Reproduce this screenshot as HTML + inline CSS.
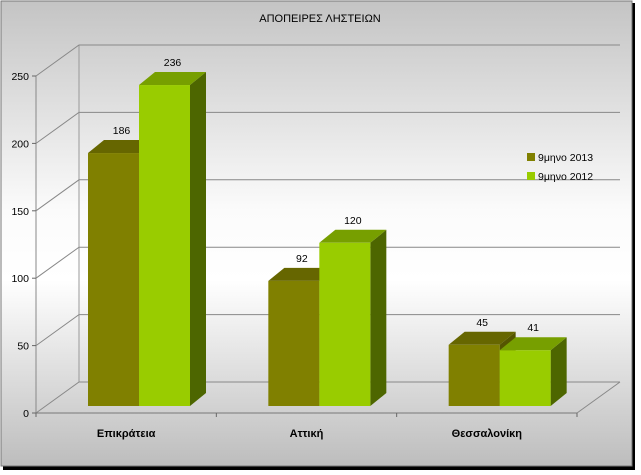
<!DOCTYPE html>
<html><head><meta charset="utf-8"><style>
html,body{margin:0;padding:0;background:#fff;width:641px;height:475px;overflow:hidden}
svg{display:block;font-family:"Liberation Sans","DejaVu Sans",sans-serif}
</style></head><body>
<svg width="641" height="475">
<defs>
<linearGradient id="bg" x1="0" y1="0" x2="0" y2="1">
<stop offset="0" stop-color="#c4c4c4"/><stop offset="0.45" stop-color="#fbfbfb"/><stop offset="0.6" stop-color="#ffffff"/><stop offset="1" stop-color="#bdbdbd"/>
</linearGradient>
</defs>
<rect x="3" y="3" width="632" height="467" fill="#000"/>
<rect x="1" y="1" width="631" height="465" fill="url(#bg)" stroke="#777" stroke-width="1"/>
<text x="320" y="22" text-anchor="middle" font-size="11" fill="#000">ΑΠΟΠΕΙΡΕΣ ΛΗΣΤΕΙΩΝ</text>
<g id="grid"></g>
<g id="bars"></g>
<g id="labels"></g>
<g>
<rect x="527" y="153" width="8" height="8" fill="#808000"/>
<text x="538" y="161" font-size="10.5">9μηνο 2013</text>
<rect x="527" y="172" width="8" height="8" fill="#99cc00"/>
<text x="538" y="180" font-size="10.5">9μηνο 2012</text>
</g>
</svg>
<script>
const categories=["Επικράτεια","Αττική","Θεσσαλονίκη"];
const series2013=[186,92,45];
const series2012=[236,120,41];
const yTicks=[0,50,100,150,200,250];
const NS="http://www.w3.org/2000/svg";
function mk(t,a,p){const e=document.createElementNS(NS,t);for(const k in a)e.setAttribute(k,a[k]);p.appendChild(e);return e;}
const X0=36,X1=577,Y0=413,YMAX=250,H=337,DX=43,DY=31;
function yFront(v){return Y0-v/YMAX*H;}
function bandX(i){return X0+(X1-X0)/categories.length*i;}
const grid=document.getElementById('grid'),bars=document.getElementById('bars'),labels=document.getElementById('labels');
// walls
mk('line',{x1:X0,y1:Y0,x2:X0,y2:yFront(YMAX),stroke:'#888'},grid);
mk('line',{x1:X0+DX,y1:Y0-DY,x2:X0+DX,y2:yFront(YMAX)-DY,stroke:'#999'},grid);
yTicks.forEach((v,i)=>{
 const y=yFront(v);
 const l=mk('polyline',{points:`${X0},${y} ${X0+DX},${y-DY} ${X1+DX},${y-DY}`,fill:'none',stroke:'#888','stroke-width':1},grid);
 
 
 mk('line',{x1:X0-4,y1:y,x2:X0,y2:y,stroke:'#666'},grid);
 const t=mk('text',{x:X0-7,y:y+4,'text-anchor':'end','font-size':10.5},labels);
 t.textContent=v;
 
 
});
mk('line',{x1:X0,y1:Y0,x2:X1,y2:Y0,stroke:'#777'},grid);
mk('line',{x1:X1,y1:Y0,x2:X1+DX,y2:Y0-DY,stroke:'#888'},grid);
for(let i=0;i<=categories.length;i++){const x=bandX(i);mk('line',{x1:x,y1:Y0,x2:x,y2:Y0+4,stroke:'#666'},grid);}
const BW=51,BASE=406,SC=1.36,SDX=16,SDY=13;
function bar(x,v,cols,name){
 const top=BASE-v*SC;
 const g=mk('g',{},bars);
 
 
 mk('polygon',{points:`${x+BW},${BASE} ${x+BW+SDX},${BASE-SDY} ${x+BW+SDX},${top-SDY} ${x+BW},${top}`,fill:cols[2]},g);
 mk('polygon',{points:`${x},${top} ${x+SDX},${top-SDY} ${x+BW+SDX},${top-SDY} ${x+BW},${top}`,fill:cols[1]},g);
 mk('rect',{x:x,y:top,width:BW,height:BASE-top,fill:cols[0]},g);
 const t=mk('text',{x:x+BW/2+8,y:top-SDY-6,'text-anchor':'middle','font-size':10.5},labels);
 t.textContent=v;
 
 
}
categories.forEach((c,i)=>{
 const x=bandX(i)+52;
 bar(x,series2013[i],['#808000','#666600','#555500'],'bar-2013-'+i);
 bar(x+BW,series2012[i],['#99cc00','#779f00','#4d6600'],'bar-2012-'+i);
 const t=mk('text',{x:(bandX(i)+bandX(i+1))/2,y:437,'text-anchor':'middle','font-size':11,'font-weight':'bold'},labels);
 t.textContent=c;
 
 
});
</script>
</body></html>
